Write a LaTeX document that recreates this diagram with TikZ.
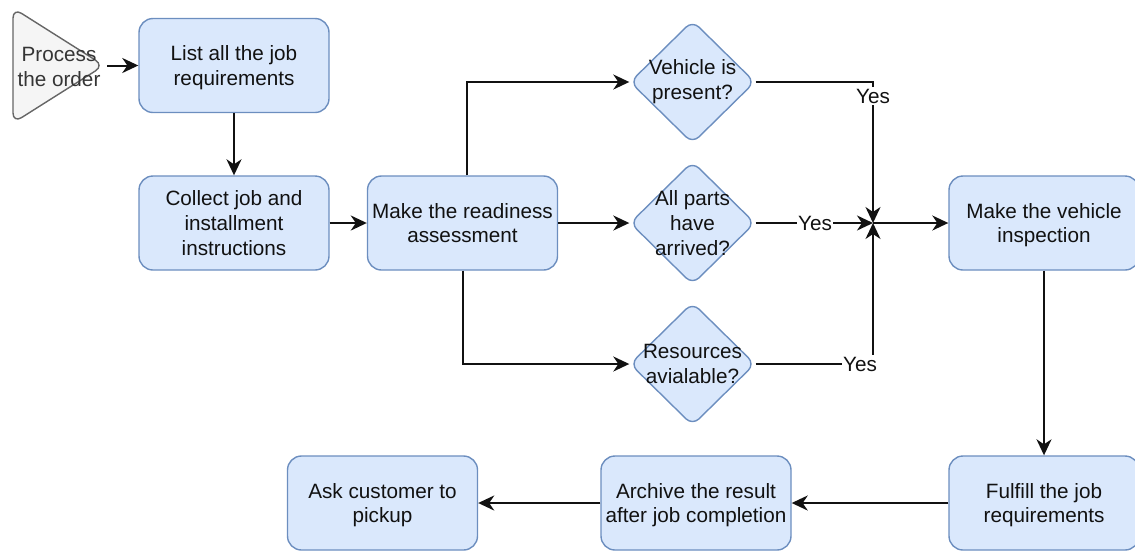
\documentclass[tikz,border=0pt]{standalone}
\usepackage{fontspec}
\setmainfont{Liberation Sans}
\usetikzlibrary{arrows.meta,shapes.geometric}
\definecolor{boxfill}{HTML}{DAE8FC}
\definecolor{boxline}{HTML}{6C8EBF}
\definecolor{startfill}{HTML}{F5F5F5}
\definecolor{startline}{HTML}{666666}
\definecolor{ink}{HTML}{111111}
\begin{document}
\begin{tikzpicture}[x=1pt,y=-1pt,
  font=\fontsize{20.7}{24.8}\selectfont,
  stepbox/.style={draw=boxline,fill=boxfill,line width=1.4pt,rounded corners=14pt,
    minimum width=190pt,minimum height=94pt,align=center,inner sep=0pt,text=ink,
    text depth=0pt},
  decision/.style={draw=boxline,fill=boxfill,line width=1.4pt,diamond,rounded corners=9pt,
    minimum width=125pt,minimum height=123pt,inner sep=0pt},
  dtext/.style={align=center,inner sep=0pt,text=ink},
  arr/.style={draw=ink,line width=2pt,-{Stealth[length=16pt,width=15pt,inset=5pt]}},
  yes/.style={fill=white,inner sep=1.5pt,text=ink}]
\useasboundingbox (0,0) rectangle (1135,550);

% start shape
\draw[fill=startfill,draw=startline,line width=1.4pt,rounded corners=10pt]
  (13,8) -- (104,65.5) -- (13,123) -- cycle;
\node[align=center,inner sep=0pt,text=ink!85] (proc) at (59,67) {Process\\the order};
\coordinate (proctip) at (107,65.5);

% process steps
\node[stepbox] (list)    at (234,65.5) {List all the job\\requirements};
\node[stepbox] (collect) at (234,223)  {Collect job and\\installment\\instructions};
\node[stepbox] (ready)   at (462.5,223) {Make the readiness\\assessment};
\node[stepbox] (insp)    at (1044,223) {Make the vehicle\\inspection};
\node[stepbox] (fulfill) at (1044,503) {Fulfill the job\\requirements};
\node[stepbox] (archive) at (696,503)  {Archive the result\\after job completion};
\node[stepbox] (ask)     at (382.5,503) {Ask customer to\\pickup};

% decisions
\node[decision] (vp) at (692.5,82) {};
\node[dtext] (vpt) at (vp) {Vehicle is\\present?};
\node[decision] (ap) at (692.5,223) {};
\node[dtext] (apt) at (ap) {All parts\\have\\arrived?};
\node[decision] (ra) at (692.5,364) {};
\node[dtext] (rat) at (ra) {Resources\\avialable?};

% merge point
\coordinate (j) at (873,223);

% connectors
\draw[arr] (proctip) -- (list.west);
\draw[arr] (list.south) -- (collect.north);
\draw[arr] (collect.east) -- (ready.west);
\draw[arr] ([xshift=4.5pt]ready.north) |- (vp.west);
\draw[arr] (ready.east) -- (ap.west);
\draw[arr] ([xshift=0.5pt]ready.south) |- (ra.west);

\draw[arr] (vp.east) -| (j);
\draw[arr] (ap.east) -- (j);
\draw[arr] (ra.east) -| (j);
\node[yes] (y1) at (873,96) {Yes};
\node[yes] (y2) at (815,223) {Yes};
\node[yes] (y3) at (860,364) {Yes};

\draw[arr] (j) -- (insp.west);
\draw[arr] (insp.south) -- (fulfill.north);
\draw[arr] (fulfill.west) -- (archive.east);
\draw[arr] (archive.west) -- (ask.east);
\end{tikzpicture}
\end{document}
